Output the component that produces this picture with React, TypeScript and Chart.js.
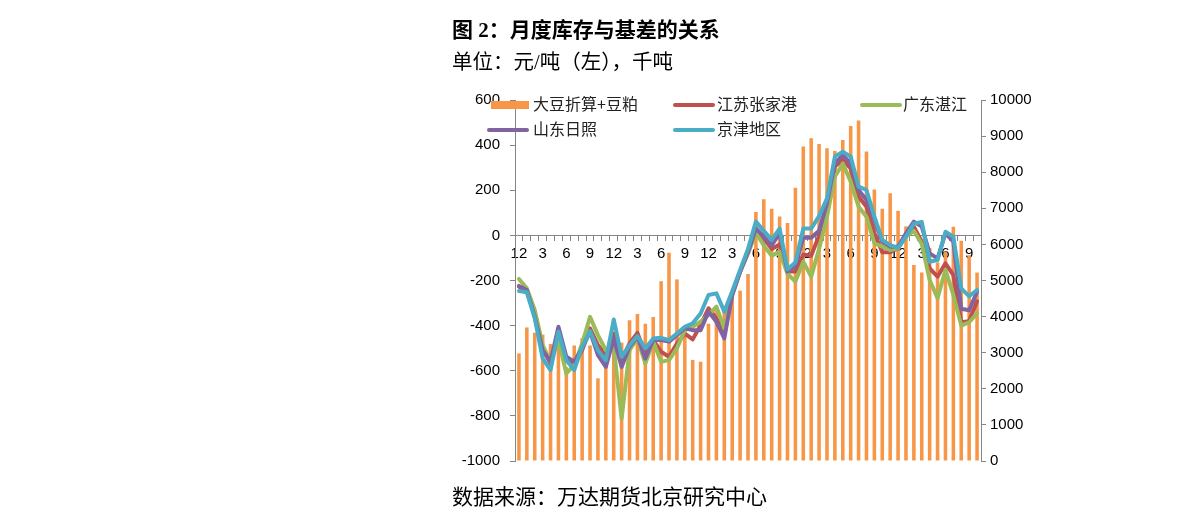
import React, { useEffect, useRef } from 'react';
import { Chart, registerables } from 'chart.js';
Chart.register(...registerables);

// Month labels (Dec ... Oct), one per bar
const months = [
  '12', '1', '2', '3', '4', '5', '6', '7', '8', '9', '10', '11',
  '12', '1', '2', '3', '4', '5', '6', '7', '8', '9', '10', '11',
  '12', '1', '2', '3', '4', '5', '6', '7', '8', '9', '10', '11',
  '12', '1', '2', '3', '4', '5', '6', '7', '8', '9', '10', '11',
  '12', '1', '2', '3', '4', '5', '6', '7', '8', '9', '10',
];

// 大豆折算+豆粕 (千吨, right axis)
const inventory = [
  2980, 3700, 3550, 3500, 3240, 3300, 2600, 3200, 3400, 3200, 2290, 3000,
  3300, 3280, 3900, 4070, 3800, 3990, 4980, 5770, 5030, 3600, 2800, 2750,
  3800, 4300, 4300, 4500, 4720, 5180, 6900, 7250, 6990, 6770, 6590, 7570,
  8710, 8940, 8780, 8660, 8590, 8890, 9280, 9430, 8570, 7520, 6990, 7420,
  6930, 6500, 5430, 5220, 5900, 5500, 5800, 6490, 6100, 5700, 5220,
];

// 江苏张家港 (元/吨, left axis)
const zhangjiagang = [
  -227, -250, -353, -501, -568, -427, -553, -568, -509, -412, -486, -531,
  -435, -553, -479, -432, -524, -464, -516, -538, -479, -435, -461, -397,
  -323, -368, -427, -257, -161, -75, 24, -13, -60, -40, -160, -160,
  -85, -90, 0, 127, 305, 334, 297, 172, 127, 9, -75, -75,
  -57, 2, 39, -28, -146, -183, -124, -176, -385, -380, -292,
];

// 广东湛江
const zhanjiang = [
  -193, -235, -331, -486, -560, -464, -612, -575, -479, -361, -442, -509,
  -494, -812, -509, -457, -568, -471, -560, -553, -501, -420, -405, -383,
  -353, -316, -412, -265, -161, -80, 12, -45, -90, -72, -170, -205,
  -117, -183, -60, 83, 260, 319, 238, 127, 83, -35, -50, -65,
  -57, -6, 20, -38, -198, -279, -153, -264, -400, -385, -346,
];

// 山东日照
const rizhao = [
  -224, -242, -361, -509, -560, -405, -538, -560, -501, -427, -531, -583,
  -457, -583, -494, -449, -546, -464, -464, -471, -442, -412, -420, -420,
  -338, -383, -457, -265, -161, -75, 31, -6, -45, 10, -160, -135,
  -10, -10, 20, 142, 319, 356, 319, 201, 157, 68, -28, -50,
  -50, 9, 61, 39, -80, -102, 9, -28, -325, -332, -250,
];

// 京津地区
const jingjin = [
  -247, -252, -368, -545, -597, -427, -553, -597, -494, -424, -509, -553,
  -373, -538, -486, -446, -501, -457, -454, -464, -435, -405, -390, -346,
  -264, -257, -338, -248, -153, -60, 61, 20, -20, 30, -150, -120,
  31, 30, 85, 164, 349, 371, 349, 216, 201, 83, -20, -43,
  -57, -6, 52, 60, -117, -109, 16, -6, -235, -270, -242,
];

const leftTicks = { min: -1000, max: 600, step: 200 };
const rightTicks = { min: 0, max: 10000, step: 1000 };

const tickFont = { family: '"Liberation Sans", Arial, sans-serif', size: 15 };
const axisColor = '#868686';
const cjkSerif = '"Liberation Serif", "Noto Sans CJK SC", serif';
const cjkSans = '"Noto Sans CJK SC", sans-serif';
const lineWidth = 4;

export default function App() {
  const ref = useRef<HTMLCanvasElement>(null);

  useEffect(() => {
    const lineBase = { type: 'line', yAxisID: 'y', borderWidth: lineWidth, pointRadius: 0, tension: 0, borderJoinStyle: 'round', borderCapStyle: 'round' };
    const chart = new Chart(ref.current as HTMLCanvasElement, {
      type: 'bar',
      data: {
        labels: months,
        datasets: [
          { ...lineBase, label: '京津地区', data: jingjin, borderColor: '#4BACC6', backgroundColor: '#4BACC6', order: 1 } as any,
          { ...lineBase, label: '山东日照', data: rizhao, borderColor: '#8064A2', backgroundColor: '#8064A2', order: 2 } as any,
          { ...lineBase, label: '广东湛江', data: zhanjiang, borderColor: '#9BBB59', backgroundColor: '#9BBB59', order: 3 } as any,
          { ...lineBase, label: '江苏张家港', data: zhangjiagang, borderColor: '#C0504D', backgroundColor: '#C0504D', order: 4 } as any,
          { type: 'bar', label: '大豆折算+豆粕', data: inventory, yAxisID: 'y1', backgroundColor: '#F79646', barPercentage: 0.45, categoryPercentage: 1, order: 5 } as any,
        ],
      },
      options: {
        responsive: false,
        animation: false,
        devicePixelRatio: 1,
        layout: { padding: { top: 100, bottom: 69, left: 0, right: 0 } },
        plugins: { legend: { display: false }, tooltip: { enabled: false } },
        scales: {
          x: {
            type: 'category',
            position: { y: 0 } as any,
            offset: true,
            grid: { display: true, drawOnChartArea: false, drawTicks: true, tickLength: 5, color: axisColor, offset: true },
            border: { display: true, color: axisColor, width: 1 },
            ticks: {
              autoSkip: false, maxRotation: 0, minRotation: 0, padding: 4, color: '#000', font: tickFont,
              callback: (_v: any, i: number) => (i % 3 === 0 ? months[i] : ''),
            },
          },
          y: {
            position: 'left',
            min: leftTicks.min, max: leftTicks.max,
            ticks: { stepSize: leftTicks.step, padding: 10, color: '#000', font: tickFont, callback: (v: any) => String(v) },
            grid: { drawOnChartArea: false, drawTicks: true, tickLength: 5, color: axisColor },
            border: { display: true, color: axisColor, width: 1 },
            afterFit: (s: any) => { s.width = 515; },
          },
          y1: {
            position: 'right',
            min: rightTicks.min, max: rightTicks.max,
            ticks: { stepSize: rightTicks.step, padding: 4, color: '#000', font: tickFont, callback: (v: any) => String(v) },
            grid: { drawOnChartArea: false, drawTicks: true, tickLength: 5, color: axisColor },
            border: { display: true, color: axisColor, width: 1 },
            afterFit: (s: any) => { s.width = 210; },
          },
        },
      } as any,
    });
    return () => chart.destroy();
  }, []);

  const text = (t: string, left: number, top: number, size: number, extra: React.CSSProperties = {}) => (
    <div style={{ position: 'absolute', left, top, fontSize: size, lineHeight: '28px', whiteSpace: 'nowrap', color: '#000', fontFamily: cjkSerif, ...extra }}>{t}</div>
  );

  const legendText = (t: string, left: number, top: number) => (
    <div style={{ position: 'absolute', left, top, fontSize: 16, lineHeight: '20px', whiteSpace: 'nowrap', color: '#222', fontFamily: cjkSans }}>{t}</div>
  );

  const legendLine = (color: string, left: number, cy: number) => (
    <div style={{ position: 'absolute', left, top: cy - 2, width: 42, height: 4, borderRadius: 2, background: color }} />
  );

  return (
    <div style={{ position: 'absolute', left: 0, top: 0, width: 1191, height: 530, background: '#fff', overflow: 'hidden' }}>
      <canvas ref={ref} width={1191} height={530} style={{ position: 'absolute', left: 0, top: 0, width: 1191, height: 530 }} />
      {text('图 2：月度库存与基差的关系', 452, 16, 21, { fontWeight: 'bold' })}
      {text('单位：元/吨（左），千吨', 452, 48, 20.5)}
      {text('数据来源：万达期货北京研究中心', 452, 483, 21)}

      <div style={{ position: 'absolute', left: 491, top: 101, width: 38, height: 8, background: '#F79646' }} />
      {legendText('大豆折算+豆粕', 533, 93)}
      {legendLine('#C0504D', 673, 105)}
      {legendText('江苏张家港', 717, 93)}
      {legendLine('#9BBB59', 860, 105)}
      {legendText('广东湛江', 903, 93)}
      {legendLine('#8064A2', 487, 130)}
      {legendText('山东日照', 533, 118)}
      {legendLine('#4BACC6', 673, 130)}
      {legendText('京津地区', 717, 118)}
    </div>
  );
}
